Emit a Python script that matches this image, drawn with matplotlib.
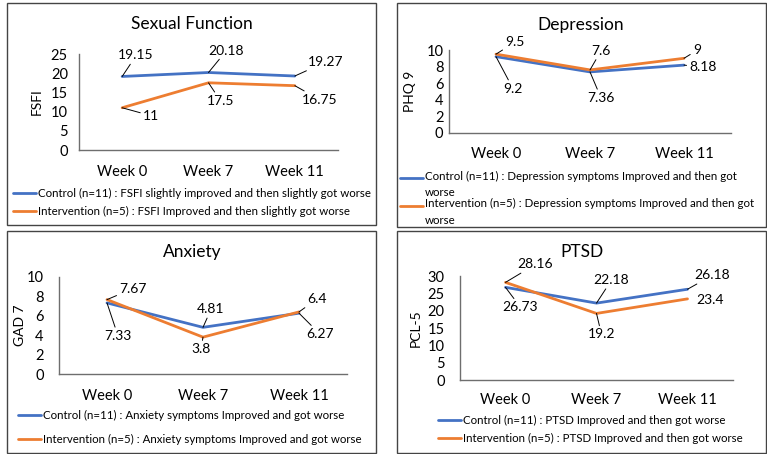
import numpy as np
import matplotlib
matplotlib.use("Agg")
import matplotlib.pyplot as plt
from matplotlib.patches import Rectangle
from matplotlib.lines import Line2D
from matplotlib.legend_handler import HandlerLine2D

plt.rcParams['font.family'] = ['Lato', 'DejaVu Sans']

W, H = 767, 454

weeks = ['Week 0', 'Week 7', 'Week 11']

fsfi_control = [19.15, 20.18, 19.27]
fsfi_interv = [11, 17.5, 16.75]
phq_control = [9.2, 7.36, 8.18]
phq_interv = [9.5, 7.6, 9]
gad_control = [7.33, 4.81, 6.27]
gad_interv = [7.67, 3.8, 6.4]
pcl_control = [26.73, 22.18, 26.18]
pcl_interv = [28.16, 19.2, 23.4]

blue = '#4472C4'
orange = '#ED7D31'
axis_gray = '#6e6e6e'


class RaisedLine(HandlerLine2D):
    # legend handle sitting at the first line of a wrapped label
    def __init__(self, dy, **kw):
        super().__init__(**kw)
        self.dy = dy

    def create_artists(self, legend, orig_handle, xdescent, ydescent,
                       width, height, fontsize, trans):
        arts = super().create_artists(legend, orig_handle, xdescent, ydescent,
                                      width, height, fontsize, trans)
        for a in arts:
            a.set_ydata(np.asarray(a.get_ydata()) + self.dy)
        return arts


fig = plt.figure(figsize=(W / 100, H / 100), dpi=100)


def px_axes(x0, y0, x1, y1):
    # pixel box (top-left origin) -> figure fraction
    return [x0 / W, 1 - y1 / H, (x1 - x0) / W, (y1 - y0) / H]


def panel(box, ax_box, title, title_xy, ylabel, ylab_x, ymax, step,
          ctrl, intv, ctrl_off, intv_off, leg_labels, leg_xy, leg_space,
          ypad, xpad, no_leader=(), line_sp=1.15, handle_dy=0):
    # border
    x0, y0, x1, y1 = box
    fig.add_artist(Rectangle((x0 / W, 1 - y1 / H), (x1 - x0) / W, (y1 - y0) / H,
                             transform=fig.transFigure, fill=False,
                             edgecolor='#444444', lw=1.0))
    ax = fig.add_axes(px_axes(*ax_box))
    x = np.arange(len(weeks))
    ax.plot(x, ctrl, color=blue, lw=2.0, label=leg_labels[0], solid_capstyle='round')
    ax.plot(x, intv, color=orange, lw=2.0, label=leg_labels[1], solid_capstyle='round')
    ax.set_xlim(-0.5, 2.5)
    ax.set_ylim(0, ymax)
    ax.set_yticks(np.arange(0, ymax + 1, step))
    ax.set_xticks(x)
    ax.set_xticklabels(weeks)
    ax.tick_params(axis='both', length=0, labelsize=10.5)
    ax.tick_params(axis='y', pad=ypad)
    ax.tick_params(axis='x', pad=xpad)
    for s in ['top', 'right']:
        ax.spines[s].set_visible(False)
    for s in ['left', 'bottom']:
        ax.spines[s].set_color(axis_gray)
        ax.spines[s].set_linewidth(1.0)
    ax.set_ylabel(ylabel, fontsize=10)
    ax.yaxis.set_label_coords(ylab_x, 0.5)
    fig.text(title_xy[0] / W, 1 - title_xy[1] / H, title, fontsize=12.5,
             ha='center', va='center')

    for vals, offs, key in [(ctrl, ctrl_off, 'c'), (intv, intv_off, 'i')]:
        for i, v in enumerate(vals):
            arrow = None
            if (key, i) not in no_leader:
                arrow = dict(arrowstyle='-', color='black', lw=0.7,
                             shrinkA=0, shrinkB=0)
            ax.annotate(f'{v:g}', xy=(i, v), xytext=offs[i],
                        textcoords='offset pixels', ha='center', va='center',
                        fontsize=10, arrowprops=arrow, annotation_clip=False)

    hmap = {Line2D: RaisedLine(handle_dy)} if handle_dy else None
    leg = ax.legend(loc='upper left', bbox_to_anchor=(leg_xy[0] / W, 1 - leg_xy[1] / H),
                    bbox_transform=fig.transFigure, frameon=False, fontsize=8.3,
                    borderpad=0, borderaxespad=0, handlelength=2.0,
                    handletextpad=0.17, labelspacing=leg_space, handler_map=hmap)
    for t in leg.get_texts():
        t.set_linespacing(line_sp)
    return ax


panel((7, 3, 376, 225), (79, 54, 338, 150), 'Sexual Function', (192, 24),
      'FSFI', -0.139, 25, 5, fsfi_control, fsfi_interv,
      [(14, 21), (18, 22), (31, 14)], [(29, -8), (12, -18), (25, -14)],
      ['Control (n=11) : FSFI slightly improved and then slightly got worse',
       'Intervention (n=5) : FSFI Improved and then slightly got worse'],
      (13, 188), 0.63, ypad=8, xpad=11)

panel((397, 3, 766, 227), (449, 50, 731, 133), 'Depression', (581, 25),
      'PHQ 9', -0.117, 10, 2, phq_control, phq_interv,
      [(17, -32), (11, -26), (19, -2)], [(19, 12), (11, 19), (13, 8)],
      ['Control (n=11) : Depression symptoms Improved and then got\nworse',
       'Intervention (n=5) : Depression symptoms Improved and then got\nworse'],
      (400, 171), 0.0, ypad=4, xpad=10, line_sp=1.6, handle_dy=5)

panel((7, 231, 376, 453), (59, 277, 347, 374), 'Anxiety', (192, 252),
      'GAD 7', -0.115, 10, 2, gad_control, gad_interv,
      [(11, -33), (8, 18), (21, -21)], [(26, 11), (-2, -12), (18, 13)],
      ['Control (n=11) : Anxiety symptoms Improved and got worse',
       'Intervention (n=5) : Anxiety symptoms Improved and got worse'],
      (18, 410), 1.14, ypad=11, xpad=11)

panel((397, 231, 766, 453), (460, 276, 733, 380), 'PTSD', (582, 252),
      'PCL-5', -0.139, 30, 5, pcl_control, pcl_interv,
      [(15, -20), (15, 23), (25, 14)], [(30, 18), (5, -21), (23, -1)],
      ['Control (n=11) : PTSD Improved and then got worse',
       'Intervention (n=5) : PTSD Improved and then got worse'],
      (438, 415), 0.63, ypad=11, xpad=9, no_leader=[('i', 2)])

fig.savefig('out.png', dpi=100)
